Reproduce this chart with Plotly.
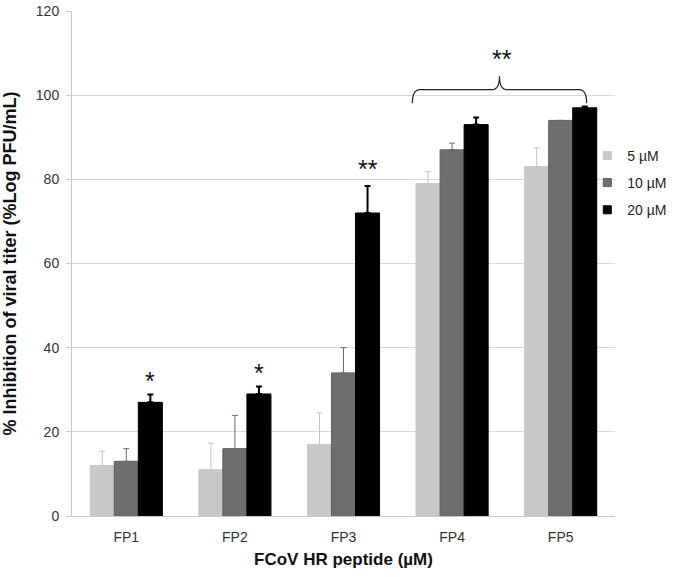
import plotly.graph_objects as go

# ---- data ----
categories = ["FP1", "FP2", "FP3", "FP4", "FP5"]
series_names = ["5 µM", "10 µM", "20 µM"]
values_5 = [12, 11, 17, 79, 83]
values_10 = [13, 16, 34, 87, 94]
values_20 = [27, 29, 72, 93, 97]
err_5 = [3.4, 6.3, 7.5, 2.8, 4.5]
err_10 = [3.0, 7.9, 6.0, 1.6, 0.0]
err_20 = [1.9, 1.8, 6.4, 1.7, 0.3]
y_ticks = [0, 20, 40, 60, 80, 100, 120]

# significance marks: (category, label, y value)
sig_single = [("FP1", "*", 33.6), ("FP2", "*", 35.3), ("FP3", "**", 83.9)]
sig_group_label = "**"
sig_group_cats = ["FP4", "FP5"]
sig_group_y = 110.0
brace_low, brace_mid, brace_peak = 98.1, 101.3, 104.5

# ---- styling ----
FONT = "Liberation Sans, Arial, sans-serif"
fills = ["#c8c8c8", "#6e6e6e", "#000000"]
lines = ["#c8c8c8", "#5e5e5e", "#000000"]
err_colors = ["#c4c4c4", "#6a6a6a", "#000000"]
err_thick = [1, 1, 2]
BARGAP = 0.336

fig = go.Figure()
all_vals = [values_5, values_10, values_20]
all_errs = [err_5, err_10, err_20]
for i, name in enumerate(series_names):
    fig.add_trace(go.Bar(
        x=categories, y=all_vals[i], name=name, showlegend=False,
        marker=dict(color=fills[i], line=dict(color=lines[i], width=1)),
        error_y=dict(type="data", array=all_errs[i], symmetric=False,
                     arrayminus=[0] * len(categories),
                     color=err_colors[i], thickness=err_thick[i], width=3),
    ))
# legend entries with small square swatches
for i, name in enumerate(series_names):
    fig.add_trace(go.Scatter(
        x=[None], y=[None], mode="markers", name=name, legendgroup=name,
        marker=dict(symbol="square", size=8, color=fills[i],
                    line=dict(color=lines[i], width=1)),
    ))

bar_w = (1 - BARGAP) / 3
ann = []
for cat, label, yv in sig_single:
    ix = categories.index(cat)
    ann.append(dict(x=ix + bar_w, y=yv, xref="x", yref="y", text=label,
                    showarrow=False, font=dict(family=FONT, size=25, color="#111"),
                    yanchor="middle", yshift=-6))

i0 = categories.index(sig_group_cats[0])
i1 = categories.index(sig_group_cats[1])
left = i0 - 0.366
right = i1 + 0.239
mid = (left + right) / 2
ann.append(dict(x=mid + 0.025, y=sig_group_y, xref="x", yref="y", text=sig_group_label,
                showarrow=False, font=dict(family=FONT, size=25, color="#111"),
                yanchor="middle", yshift=-6))

c = 0.07
path = (f"M {left},{brace_low} Q {left},{brace_mid} {left + c},{brace_mid} "
        f"L {mid - c},{brace_mid} Q {mid},{brace_mid} {mid},{brace_peak} "
        f"Q {mid},{brace_mid} {mid + c},{brace_mid} "
        f"L {right - c},{brace_mid} Q {right},{brace_mid} {right},{brace_low}")
shapes = [dict(type="path", path=path, xref="x", yref="y",
               line=dict(color="#222", width=1.2))]

fig.update_layout(
    width=683, height=577,
    margin=dict(l=72, r=61, t=11, b=60.5),
    paper_bgcolor="white", plot_bgcolor="white",
    barmode="group", bargap=BARGAP, bargroupgap=0,
    font=dict(family=FONT, size=14, color="#333"),
    showlegend=True,
    legend=dict(x=0.949, xanchor="left", y=0.745, yanchor="top",
                bgcolor="rgba(0,0,0,0)", font=dict(size=14, color="#222"),
                itemwidth=30, tracegroupgap=6),
    annotations=ann, shapes=shapes,
)
fig.update_xaxes(
    type="category", range=[-0.5, 4.5], showgrid=False, ticks="",
    showline=True, linecolor="#c8c8c8", linewidth=1,
    tickfont=dict(size=14, color="#333"), ticklabelstandoff=8,
    title=dict(text="<b>FCoV HR peptide (µM)</b>", font=dict(size=17, color="#111"),
               standoff=9),
    automargin=False,
)
fig.update_yaxes(
    range=[0, 120], tickvals=y_ticks, showgrid=True, gridcolor="#d9d9d9",
    gridwidth=1, zeroline=False, showline=True, linecolor="#c8c8c8", linewidth=1,
    ticks="outside", ticklen=5, tickcolor="#c8c8c8",
    tickfont=dict(size=14, color="#333"), ticklabelstandoff=4,
    title=dict(text="<b>% Inhibition of viral titer (%Log PFU/mL)</b>",
               font=dict(size=18, color="#111"), standoff=19),
    automargin=False,
)

# remove the browser's default 8px body margin so the figure fills the window
fig.write_html("out.html", config={"displayModeBar": False},
               post_script="document.body.style.margin='0';")
